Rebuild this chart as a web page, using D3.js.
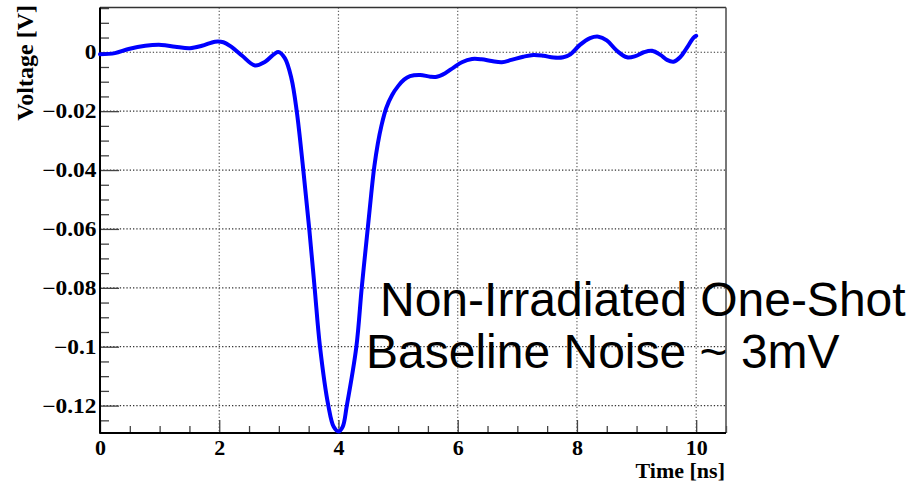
<!DOCTYPE html>
<html>
<head>
<meta charset="utf-8">
<script src="https://cdn.jsdelivr.net/npm/d3@7"></script>
<style>
  html, body { margin: 0; padding: 0; background: #fff; }
  svg { display: block; }
</style>
</head>
<body>
<svg id="chart" width="911" height="486"></svg>
<script>
// ---- data ----
const timeNs = [0, 0.25, 0.48, 0.76, 1.03, 1.26, 1.51, 1.71, 1.93, 2.07, 2.2, 2.38, 2.6, 2.77, 2.99,
  3.1, 3.21, 3.30, 3.41, 3.51, 3.60, 3.69, 3.83, 3.92, 4.0, 4.07, 4.14, 4.30, 4.39, 4.49, 4.55,
  4.60, 4.66, 4.72, 4.80, 4.90, 5.00, 5.10, 5.20, 5.37, 5.54, 5.65, 5.79, 5.93, 6.07, 6.24, 6.40, 6.57, 6.74, 6.90,
  7.10, 7.27, 7.44, 7.61, 7.77, 7.89, 8.05, 8.22, 8.36, 8.50, 8.67, 8.84, 8.98, 9.12, 9.26, 9.40,
  9.51, 9.62, 9.73, 9.84, 9.95, 10.0];
const voltageV = [-0.0007, -0.0003, 0.0011, 0.0022, 0.0025, 0.0019, 0.0014, 0.0022, 0.0036, 0.0034, 0.0019, -0.0011, -0.0045, -0.0032, 0.0001,
  -0.002, -0.0088, -0.02, -0.04, -0.06, -0.08, -0.10, -0.12, -0.1272, -0.1288, -0.1272, -0.12, -0.10, -0.08, -0.06, -0.048,
  -0.039, -0.031, -0.025, -0.019, -0.0145, -0.0115, -0.0093, -0.0081, -0.0077, -0.0083, -0.0083, -0.0071, -0.0052, -0.0034, -0.0023, -0.0024, -0.003, -0.0034, -0.0026,
  -0.0015, -0.0009, -0.0012, -0.0018, -0.0017, -0.0007, 0.0025, 0.0048, 0.0053, 0.004, 0.0005, -0.0017, -0.0013, 0, 0.0005, -0.0009,
  -0.0026, -0.0032, -0.0017, 0.0014, 0.0048, 0.0056];

const xTickValues = [0, 2, 4, 6, 8, 10];
const xTickLabels = ["0", "2", "4", "6", "8", "10"];
const yTickValues = [0, -0.02, -0.04, -0.06, -0.08, -0.1, -0.12];
const yTickLabels = ["0", "\u22120.02", "\u22120.04", "\u22120.06", "\u22120.08", "\u22120.1", "\u22120.12"];
const xTitle = "Time [ns]";
const yTitle = "Voltage [V]";
const noteLines = ["Non-Irradiated One-Shot", "Baseline Noise ~ 3mV"];

// ---- layout ----
const L = 100, R = 726, T = 7.5, B = 433;
const svg = d3.select("#chart");
const x = d3.scaleLinear().domain([0, 10.5]).range([L, R]);
const y = d3.scaleLinear().domain([-0.1293, 0.0152]).range([B, T]);
const serif = "'Liberation Serif', 'Times New Roman', serif";

// grid
const grid = svg.append("g");
grid.selectAll("line.h").data(yTickValues).join("line")
  .attr("x1", L).attr("x2", R).attr("y1", d => y(d)).attr("y2", d => y(d))
  .attr("stroke", "#333").attr("stroke-width", 1.2).attr("stroke-dasharray", "1.3,2");
grid.selectAll("line.v").data(xTickValues.filter(d => d > 0)).join("line")
  .attr("y1", T).attr("y2", B).attr("x1", d => x(d)).attr("x2", d => x(d))
  .attr("stroke", "#666").attr("stroke-width", 1.2).attr("stroke-dasharray", "1.3,2");

// minor ticks
const yMinor = d3.range(-0.125, 0.0151, 0.005).filter(v => Math.abs(Math.round(v / 0.02) * 0.02 - v) > 1e-6);
const xMinor = d3.range(0.5, 10.51, 0.5).filter(v => Math.abs(v % 2) > 1e-6);

svg.append("g").attr("transform", `translate(${L},0)`)
  .call(d3.axisLeft(y).tickValues(yMinor).tickSize(-9).tickSizeOuter(0).tickFormat(""))
  .call(g => g.select(".domain").remove())
  .call(g => g.selectAll("line").attr("stroke", "#444").attr("stroke-width", 1.3));
svg.append("g").attr("transform", `translate(0,${B})`)
  .call(d3.axisBottom(x).tickValues(xMinor).tickSize(-7).tickSizeOuter(0).tickFormat(""))
  .call(g => g.select(".domain").remove())
  .call(g => g.selectAll("line").attr("stroke", "#444").attr("stroke-width", 1.3));

// major axes
const yAxis = svg.append("g").attr("transform", `translate(${L},0)`)
  .call(d3.axisLeft(y).tickValues(yTickValues).tickSize(-19).tickSizeOuter(0).tickPadding(3)
    .tickFormat((d, i) => yTickLabels[i]))
  .call(g => g.select(".domain").remove());
yAxis.selectAll("line").attr("stroke", "#444").attr("stroke-width", 1.3);
yAxis.selectAll("text").attr("font-family", serif).attr("font-weight", "bold")
  .attr("font-size", 20).attr("fill", "#000").attr("transform", "scale(1.17,1)");

const xAxis = svg.append("g").attr("transform", `translate(0,${B})`)
  .call(d3.axisBottom(x).tickValues(xTickValues).tickSize(-13).tickSizeOuter(0).tickPadding(6)
    .tickFormat((d, i) => xTickLabels[i]))
  .call(g => g.select(".domain").remove());
xAxis.selectAll("line").attr("stroke", "#444").attr("stroke-width", 1.3);
xAxis.selectAll("text").attr("font-family", serif).attr("font-weight", "bold")
  .attr("font-size", 22).attr("fill", "#000");

// frame
svg.append("line").attr("x1", L).attr("x2", R).attr("y1", T).attr("y2", T).attr("stroke", "#333").attr("stroke-width", 1.3);
svg.append("line").attr("x1", R).attr("x2", R).attr("y1", T).attr("y2", B).attr("stroke", "#555").attr("stroke-width", 1.6);
svg.append("line").attr("x1", L).attr("x2", L).attr("y1", T).attr("y2", B + 0.8).attr("stroke", "#000").attr("stroke-width", 2);
svg.append("line").attr("x1", L).attr("x2", R).attr("y1", B).attr("y2", B).attr("stroke", "#000").attr("stroke-width", 2);

// curve
const pts = timeNs.map((t, i) => [t, voltageV[i]]);
svg.append("path").datum(pts)
  .attr("fill", "none").attr("stroke", "#0000ff").attr("stroke-width", 4)
  .attr("stroke-linejoin", "round").attr("stroke-linecap", "round")
  .attr("d", d3.line().x(d => x(d[0])).y(d => y(d[1])).curve(d3.curveCatmullRom.alpha(0.5)));

// titles
svg.append("text").attr("x", 725).attr("y", 478).attr("text-anchor", "end")
  .attr("font-family", serif).attr("font-weight", "bold").attr("font-size", 22).text(xTitle);
svg.append("text").attr("transform", "translate(33,5) rotate(-90)").attr("text-anchor", "end")
  .attr("font-family", serif).attr("font-weight", "bold").attr("font-size", 24).text(yTitle);

// annotation
const sans = "'Liberation Sans', Arial, sans-serif";
svg.append("text").attr("x", 380).attr("y", 316).attr("font-family", sans).attr("font-size", 48)
  .attr("fill", "#000").text(noteLines[0]);
svg.append("text").attr("x", 366).attr("y", 368).attr("font-family", sans).attr("font-size", 48)
  .attr("fill", "#000").text(noteLines[1]);
</script>
</body>
</html>
